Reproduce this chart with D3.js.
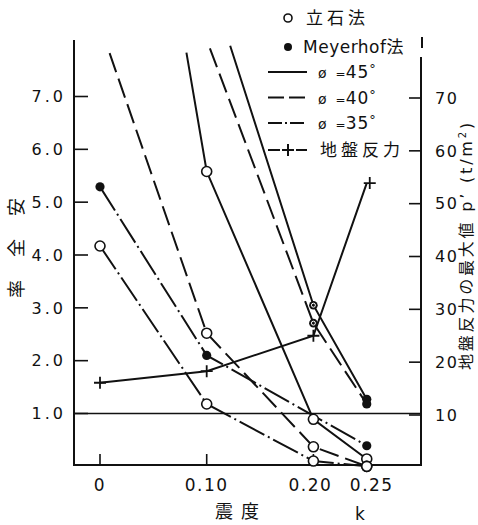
<html>
  <head>
    <meta charset="utf-8" />
    <script src="https://cdnjs.cloudflare.com/ajax/libs/d3/7.6.1/d3.min.js"></script>
    <style>
      body { margin: 0; background: #fff; }
      svg { display: block; }
      text { font-family: "DejaVu Sans", sans-serif; fill: #111; }
      .jp { font-family: "Noto Sans CJK JP", sans-serif; }
    </style>
  </head>
  <body>
    <svg width="478" height="525"></svg>
  </body>

  <script>
    // seismic coefficient k at which the cases were computed
    const kTicks = [0, 0.1, 0.2, 0.25];
    const kLabels = ["0", "0.10", "0.20", "0.25"];
    const safetyTicks = [1, 2, 3, 4, 5, 6, 7];
    const pressureTicks = [10, 20, 30, 40, 50, 60, 70];

    // safety factor, 立石法 (open circles); first points of 45/40 are where the line leaves the top
    const tate45K = [0.081, 0.1, 0.2, 0.25];
    const tate45 = [7.83, 5.58, 0.89, 0.14];
    const tate40K = [0.009, 0.1, 0.2, 0.25];
    const tate40 = [7.82, 2.52, 0.37, 0.0];
    const tate35K = [0, 0.1, 0.2, 0.25];
    const tate35 = [4.17, 1.18, 0.1, 0.0];

    // safety factor, Meyerhof法 (filled circles)
    const meyer45K = [0.122, 0.2, 0.25];
    const meyer45 = [7.96, 3.05, 1.27];
    const meyer40K = [0.103, 0.2, 0.25];
    const meyer40 = [7.91, 2.71, 1.18];
    const meyer35K = [0, 0.1, 0.25];
    const meyer35 = [5.29, 2.1, 0.39];

    // max ground reaction p' (t/m2), right axis
    const groundK = [0, 0.1, 0.2, 0.25];
    const ground = [16.1, 18.3, 25.0, 53.9];

    const svg = d3.select("svg");
    const x = d3.scaleLinear().domain([0, 0.1]).range([100, 206.7]);
    const yL = d3.scaleLinear().domain([1, 7]).range([413.5, 96.5]);
    const yR = d3.scaleLinear().domain([10, 70]).range([415, 98]);
    const axL = 74, axR = 421, axB = 465, axT = 40;

    const dashes = { 45: null, 40: "20,7", 35: "28,4,2,4" };

    const series = [
      { k: tate45K, v: tate45, phi: 45, m: "open" },
      { k: tate40K, v: tate40, phi: 40, m: "open" },
      { k: tate35K, v: tate35, phi: 35, m: "open" },
      { k: meyer45K, v: meyer45, phi: 45, m: "fill" },
      { k: meyer40K, v: meyer40, phi: 40, m: "fill" },
      { k: meyer35K, v: meyer35, phi: 35, m: "fill" },
    ];

    // frame
    const frame = svg.append("g").attr("stroke", "#111").attr("fill", "none");
    frame.append("line").attr("x1", axL).attr("x2", axL).attr("y1", axT).attr("y2", axB).attr("stroke-width", 2);
    frame.append("line").attr("x1", axL - 1).attr("x2", axR + 1).attr("y1", axB).attr("y2", axB).attr("stroke-width", 2);
    frame.append("line").attr("x1", axR).attr("x2", axR).attr("y1", 57).attr("y2", axB).attr("stroke-width", 2);
    frame.append("line").attr("x1", axR + 1).attr("x2", axR + 1).attr("y1", 37).attr("y2", 48).attr("stroke-width", 2);
    frame.append("line").attr("x1", axL).attr("x2", axR).attr("y1", yL(1)).attr("y2", yL(1)).attr("stroke-width", 1.6);

    // left axis ticks (pointing inside)
    svg.append("g")
      .selectAll("line")
      .data(safetyTicks)
      .join("line")
      .attr("x1", axL).attr("x2", axL + 14)
      .attr("y1", (d) => yL(d)).attr("y2", (d) => yL(d))
      .attr("stroke", "#111").attr("stroke-width", 1.6);
    svg.append("g")
      .selectAll("text")
      .data(safetyTicks)
      .join("text")
      .attr("x", 66).attr("y", (d) => yL(d))
      .attr("dy", "0.36em")
      .attr("text-anchor", "end")
      .attr("font-size", 16).attr("letter-spacing", 3)
      .text((d) => d.toFixed(1));

    // right axis ticks
    svg.append("g")
      .selectAll("line")
      .data(pressureTicks)
      .join("line")
      .attr("x1", axR - 12).attr("x2", axR)
      .attr("y1", (d) => yR(d)).attr("y2", (d) => yR(d))
      .attr("stroke", "#111").attr("stroke-width", 1.6);
    svg.append("g")
      .selectAll("text")
      .data(pressureTicks)
      .join("text")
      .attr("x", 435).attr("y", (d) => yR(d))
      .attr("dy", "0.36em")
      .attr("font-size", 16).attr("letter-spacing", 1.5)
      .text((d) => d);

    // bottom ticks
    svg.append("g")
      .selectAll("line")
      .data(kTicks)
      .join("line")
      .attr("x1", (d) => x(d)).attr("x2", (d) => x(d))
      .attr("y1", axB - 11).attr("y2", axB)
      .attr("stroke", "#111").attr("stroke-width", 1.6);
    svg.append("g")
      .selectAll("text")
      .data(kTicks)
      .join("text")
      .attr("x", (d, i) => x(d) + (i == 3 ? 5 : 0) - (i == 2 ? 3 : 0))
      .attr("y", 491)
      .attr("text-anchor", "middle")
      .attr("font-size", 17).attr("letter-spacing", 1.5)
      .text((d, i) => kLabels[i]);

    // axis titles
    svg.append("text").attr("class", "jp").attr("x", 215).attr("y", 518)
      .attr("font-size", 18).attr("letter-spacing", 8).text("震度");
    svg.append("text").attr("x", 360).attr("y", 520).attr("text-anchor", "middle")
      .attr("font-size", 17).text("k");

    ["安", "全", "率"].forEach((c, i) => {
      svg.append("text").attr("class", "jp")
        .attr("transform", `translate(17,${207 + i * 41}) rotate(-90)`)
        .attr("text-anchor", "middle").attr("dy", "0.35em")
        .attr("font-size", 18).text(c);
    });

    const rt = svg.append("text")
      .attr("transform", "translate(466,370) rotate(-90)")
      .attr("dy", "0.36em")
      .attr("font-size", 16).attr("letter-spacing", 2.8);
    rt.append("tspan").attr("class", "jp").text("地盤反力の最大値");
    rt.append("tspan").text(" p’ (t/m");
    rt.append("tspan").attr("font-size", 10).attr("dy", -6).text("2");
    rt.append("tspan").attr("dy", 6).text(")");

    // curves
    const line = d3.line().x((d) => x(d[0]));
    series.forEach((s) => {
      const pts = s.k.map((k, i) => [k, s.v[i]]);
      svg.append("path")
        .attr("d", line.y((d) => yL(d[1]))(pts))
        .attr("fill", "none").attr("stroke", "#111").attr("stroke-width", 2)
        .attr("stroke-dasharray", dashes[s.phi]);
    });
    const gpts = groundK.map((k, i) => [k, ground[i]]);
    svg.append("path")
      .attr("d", line.y((d) => yR(d[1]))(gpts))
      .attr("fill", "none").attr("stroke", "#111").attr("stroke-width", 2);

    // markers only at computed k values
    series.forEach((s) => {
      s.k.forEach((k, i) => {
        if (!kTicks.includes(k)) return;
        const cx = x(k), cy = yL(s.v[i]);
        if (s.m == "open") {
          svg.append("circle").attr("cx", cx).attr("cy", cy).attr("r", 5)
            .attr("fill", "#fff").attr("stroke", "#111").attr("stroke-width", 1.6);
        } else if (k == 0.2) {
          svg.append("circle").attr("cx", cx).attr("cy", cy).attr("r", 4.3).attr("fill", "#111");
          svg.append("circle").attr("cx", cx).attr("cy", cy).attr("r", 2)
            .attr("fill", "none").attr("stroke", "#fff").attr("stroke-width", 1);
        } else {
          svg.append("circle").attr("cx", cx).attr("cy", cy).attr("r", 4.6).attr("fill", "#111");
        }
      });
    });
    gpts.forEach((d) => {
      const cx = x(d[0]) + (d[0] == 0.25 ? 3 : 0), cy = yR(d[1]);
      svg.append("path")
        .attr("d", `M${cx - 6},${cy}H${cx + 6}M${cx},${cy - 6}V${cy + 6}`)
        .attr("stroke", "#111").attr("stroke-width", 1.8);
    });

    // legend
    const lg = svg.append("g");
    lg.append("circle").attr("cx", 288).attr("cy", 18).attr("r", 4)
      .attr("fill", "#fff").attr("stroke", "#111").attr("stroke-width", 1.6);
    lg.append("text").attr("class", "jp").attr("x", 306).attr("y", 18).attr("dy", "0.36em")
      .attr("font-size", 17).attr("letter-spacing", 4).text("立石法");
    lg.append("circle").attr("cx", 288).attr("cy", 47).attr("r", 4).attr("fill", "#111");
    const mt = lg.append("text").attr("x", 303).attr("y", 47).attr("dy", "0.36em")
      .attr("font-size", 17).attr("letter-spacing", 0.5);
    mt.append("tspan").text("Meyerhof");
    mt.append("tspan").attr("class", "jp").text("法");

    const phis = [45, 40, 35];
    phis.forEach((p, i) => {
      const ly = 72 + i * 25.5;
      lg.append("line").attr("x1", 268).attr("x2", 307).attr("y1", ly).attr("y2", ly)
        .attr("stroke", "#111").attr("stroke-width", 2)
        .attr("stroke-dasharray", p == 40 ? "16,5" : p == 35 ? "14,3,2,3" : null);
      const t = lg.append("text").attr("x", 318).attr("y", ly).attr("dy", "0.36em").attr("font-size", 17);
      t.append("tspan").attr("font-size", 14).text("ø");
      t.append("tspan").attr("dx", 9).attr("font-size", 12).text("=");
      t.append("tspan").attr("letter-spacing", 1).text(p);
      t.append("tspan").attr("dy", -5).attr("font-size", 13).text("°");
    });
    lg.append("path").attr("d", "M268,150H280M296,150H307M282,150H294M288,144V156")
      .attr("stroke", "#111").attr("stroke-width", 2);
    lg.append("text").attr("class", "jp").attr("x", 320).attr("y", 150).attr("dy", "0.36em")
      .attr("font-size", 17).attr("letter-spacing", 4).text("地盤反力");
  </script>
</html>
